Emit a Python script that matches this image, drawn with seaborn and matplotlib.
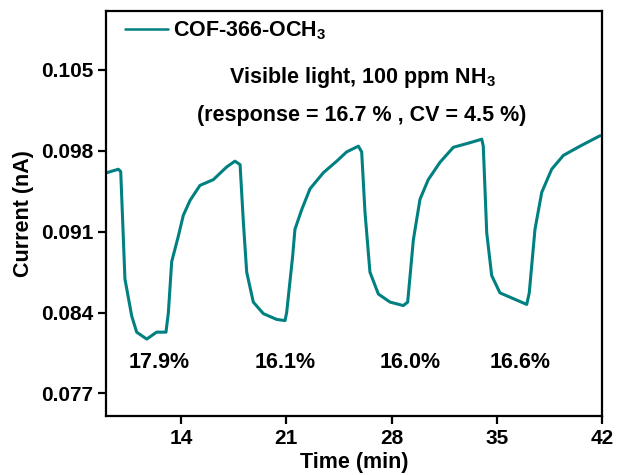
import pandas as pd
import seaborn as sns
import matplotlib
matplotlib.use("Agg")
import matplotlib.pyplot as plt

# values
time_min = [9.05, 9.82, 9.98, 10.26, 10.71, 11.04, 11.71, 12.37, 12.99, 13.15,
            13.37, 13.81, 14.14, 14.59, 15.25, 16.14, 17.03, 17.58, 17.92, 18.14,
            18.36, 18.80, 19.47, 20.36, 20.91, 21.02, 21.42, 21.57, 22.02, 22.57,
            23.46, 24.35, 25.01, 25.79, 26.01, 26.23, 26.56, 27.12, 27.90, 28.78,
            29.07, 29.45, 29.89, 30.44, 31.22, 32.11, 33.22, 34.00, 34.10, 34.33,
            34.66, 35.21, 36.10, 36.99, 37.16, 37.54, 37.99, 38.65, 39.43, 40.54,
            41.87]
current_nA = [0.0961, 0.0964, 0.0962, 0.0869, 0.0837, 0.0823, 0.0817, 0.0823, 0.0823, 0.0840,
              0.0884, 0.0906, 0.0924, 0.0937, 0.0950, 0.0955, 0.0966, 0.0971, 0.0968, 0.0918,
              0.0875, 0.0849, 0.0839, 0.0834, 0.0833, 0.0840, 0.0889, 0.0912, 0.0929, 0.0947,
              0.0961, 0.0971, 0.0979, 0.0984, 0.0979, 0.0927, 0.0875, 0.0856, 0.0849, 0.0846,
              0.0849, 0.0903, 0.0938, 0.0955, 0.0970, 0.0983, 0.0987, 0.0990, 0.0984, 0.0909,
              0.0872, 0.0857, 0.0852, 0.0847, 0.0857, 0.0912, 0.0944, 0.0964, 0.0976, 0.0984,
              0.0993]

resp_labels = ['17.9%', '16.1%', '16.0%', '16.6%']
resp_x = [12.53, 20.91, 29.23, 36.55]
resp_y = 0.0797

xticks = [14, 21, 28, 35, 42]
yticks = [0.077, 0.084, 0.091, 0.098, 0.105]

df = pd.DataFrame({'Time (min)': time_min, 'Current (nA)': current_nA})

sns.set_theme(style="ticks")
plt.rcParams['font.family'] = ['Liberation Sans', 'DejaVu Sans']
plt.rcParams['font.weight'] = 'bold'
plt.rcParams['text.color'] = 'black'
plt.rcParams['axes.labelcolor'] = 'black'
plt.rcParams['mathtext.fontset'] = 'custom'
plt.rcParams['mathtext.rm'] = 'Liberation Sans:bold'
plt.rcParams['mathtext.bf'] = 'Liberation Sans:bold'
plt.rcParams['mathtext.it'] = 'Liberation Sans:bold'

fs_tick = 15
fs = 15.5
fig = plt.figure(figsize=(6.17, 4.75), dpi=100)
ax = fig.add_axes([0.1718, 0.1232, 0.8039, 0.8537])

sns.lineplot(data=df, x='Time (min)', y='Current (nA)', ax=ax, color='#008080',
             linewidth=2.2, label='COF-366-OCH$_3$', errorbar=None)

ax.set_xlim(9, 42)
ax.set_ylim(0.075, 0.1101)
ax.set_xticks(xticks)
ax.set_yticks(yticks)
ax.set_xticklabels([str(v) for v in xticks], fontsize=fs_tick, fontweight='bold')
ax.set_yticklabels([f'{v:.3f}' for v in yticks], fontsize=fs_tick, fontweight='bold')
ax.tick_params(direction='out', length=5.5, width=1.6, pad=3.5, colors='black')
for s in ax.spines.values():
    s.set_linewidth(1.6)
    s.set_color('black')

ax.set_xlabel('Time (min)', fontsize=fs, fontweight='bold', labelpad=3)
ax.set_ylabel('Current (nA)', fontsize=fs, fontweight='bold', labelpad=5)

leg = ax.legend(loc='upper left', frameon=False, fontsize=fs, handlelength=2.0,
                handletextpad=0.25, borderaxespad=0.0, bbox_to_anchor=(0.02, 1.0))
for h in leg.get_lines():
    h.set_linewidth(1.8)

ax.text(0.516, 0.836, 'Visible light, 100 ppm NH$_3$', transform=ax.transAxes,
        ha='center', va='center', fontsize=fs, fontweight='bold')
ax.text(0.516, 0.743, '(response = 16.7 % , CV = 4.5 %)', transform=ax.transAxes,
        ha='center', va='center', fontsize=fs, fontweight='bold')

for lab, xv in zip(resp_labels, resp_x):
    ax.text(xv, resp_y, lab, ha='center', va='center', fontsize=fs, fontweight='bold')

fig.savefig('out.png', dpi=100)
